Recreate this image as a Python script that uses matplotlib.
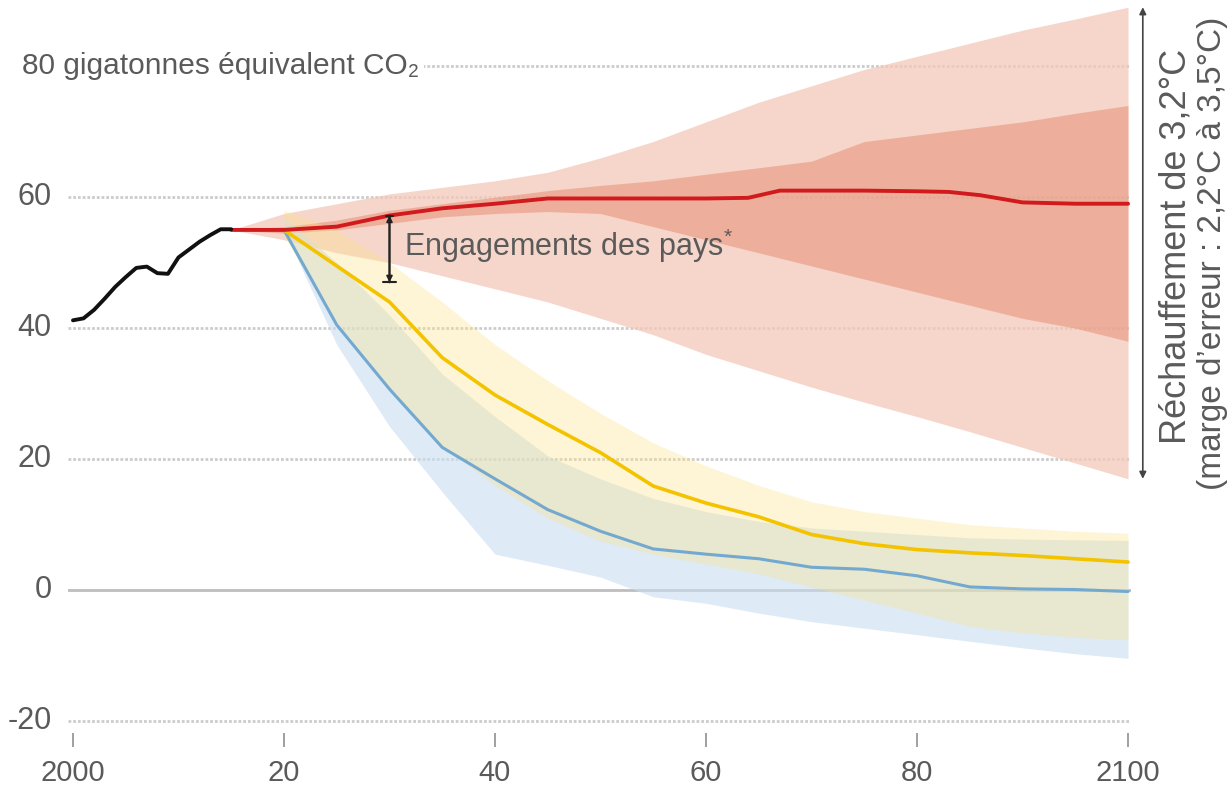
import matplotlib
matplotlib.use('Agg')
import matplotlib.pyplot as plt
from matplotlib import font_manager as fm

# ---- data (Gt CO2-eq per year) ----
hist_years = list(range(2000, 2016))
hist_emissions = [41.2, 41.5, 42.8, 44.5, 46.3, 47.8, 49.2, 49.4, 48.4, 48.3,
                  50.8, 52.0, 53.2, 54.2, 55.1, 55.1]

# national pledges ("engagements des pays") median path
pledge_years = [2015, 2020, 2025, 2030, 2035, 2040, 2045, 2050, 2055, 2060,
                2064, 2067, 2070, 2075, 2080, 2083, 2086, 2090, 2095, 2100]
pledge_line = [55.0, 55.0, 55.5, 57.2, 58.3, 59.0, 59.8, 59.8, 59.8, 59.8,
               59.9, 61.0, 61.0, 61.0, 60.9, 60.8, 60.3, 59.2, 59.0, 59.0]

band_years = list(range(2015, 2101, 5))
pledge_outer_hi = [55.0, 57.5, 59.0, 60.5, 61.5, 62.5, 63.8, 66.0, 68.5, 71.5,
                   74.5, 77.0, 79.5, 81.5, 83.5, 85.5, 87.2, 89.0]
pledge_outer_lo = [55.0, 53.5, 51.5, 50.0, 48.0, 46.0, 44.0, 41.5, 39.0, 36.0,
                   33.5, 31.0, 28.7, 26.5, 24.2, 21.8, 19.4, 17.0]
pledge_inner_hi = [55.0, 55.5, 56.5, 58.0, 59.0, 60.0, 61.0, 61.8, 62.5, 63.5,
                   64.5, 65.5, 68.5, 69.5, 70.5, 71.5, 72.8, 74.0]
pledge_inner_lo = [55.0, 54.5, 55.0, 56.0, 57.0, 57.5, 57.8, 57.5, 55.5, 53.5,
                   51.5, 49.5, 47.5, 45.5, 43.5, 41.5, 40.0, 38.0]

scen_years = list(range(2020, 2101, 5))
# 2 degC pathway
two_line = [55.0, 49.5, 44.0, 35.5, 29.8, 25.3, 21.0, 15.9, 13.3, 11.2,
            8.5, 7.1, 6.2, 5.7, 5.3, 4.8, 4.3]
two_hi = [58.0, 55.0, 50.0, 44.0, 37.5, 32.0, 27.0, 22.5, 19.0, 16.0,
          13.5, 12.0, 11.0, 10.0, 9.5, 9.0, 8.7]
two_lo = [54.0, 41.0, 31.0, 22.0, 16.0, 11.0, 7.5, 5.5, 4.0, 2.5,
          0.5, -1.5, -3.5, -5.5, -6.5, -7.2, -7.6]
# 1.5 degC pathway
one5_line = [55.0, 40.5, 30.7, 21.8, 17.0, 12.3, 9.0, 6.3, 5.5, 4.8,
             3.5, 3.2, 2.2, 0.5, 0.2, 0.1, -0.2]
one5_hi = [57.0, 50.0, 42.0, 33.0, 26.5, 20.5, 17.0, 14.0, 12.0, 10.5,
           9.5, 9.0, 8.5, 8.0, 7.8, 7.7, 7.6]
one5_lo = [55.0, 37.5, 25.0, 15.0, 5.5, 3.8, 2.0, -1.0, -2.0, -3.5,
           -4.8, -5.8, -6.8, -7.8, -8.8, -9.7, -10.4]

gap_year, gap_top, gap_bottom = 2030, 57.2, 47.0

y_ticks = [-20, 0, 20, 40, 60]
x_ticks = [2000, 2020, 2040, 2060, 2080, 2100]
x_labels = ['2000', '20', '40', '60', '80', '2100']

# ---- fonts ----
names = {f.name for f in fm.fontManager.ttflist}
NARROW = 'Liberation Sans Narrow' if 'Liberation Sans Narrow' in names else 'Liberation Sans'
REG = 'Liberation Sans'
TXT = '#5a5a5a'
plt.rcParams['mathtext.fontset'] = 'custom'
plt.rcParams['mathtext.rm'] = REG

fig = plt.figure(figsize=(12.29, 7.90), dpi=100)
ax = fig.add_axes([67.7 / 1229, 57 / 790, 1063.5 / 1229, 733 / 790])
ax.set_xlim(1999.5, 2100.3)
ax.set_ylim(-21.8, 90.1)

# grid
for v in [-20, 20, 40, 60, 80]:
    ax.axhline(v, color='#cccccc', lw=2, ls=(0, (1, 0.7)), zorder=0)
ax.axhline(0, color='#bdbdbd', lw=2, zorder=0.5)

# pledge bands
ax.fill_between(band_years, pledge_outer_lo, pledge_outer_hi,
                color='#f4c9b9', alpha=0.75, lw=0, zorder=1)
ax.fill_between(band_years, pledge_inner_lo, pledge_inner_hi,
                color='#e58a70', alpha=0.5, lw=0, zorder=1.1)
# 1.5 / 2 degC bands
ax.fill_between(scen_years, one5_lo, one5_hi, color='#c9ddf1', alpha=0.6,
                lw=0, zorder=1.2)
ax.fill_between(scen_years, two_lo, two_hi, color='#fbe38a', alpha=0.35,
                lw=0, zorder=1.3)

# lines
ax.plot(scen_years, one5_line, color='#74a9cf', lw=2.2, zorder=3,
        solid_capstyle='round')
ax.plot(scen_years, two_line, color='#f3c300', lw=2.6, zorder=3.1,
        solid_capstyle='round')
ax.plot(pledge_years, pledge_line, color='#d11a1d', lw=2.8, zorder=3.2,
        solid_capstyle='round')
ax.plot(hist_years, hist_emissions, color='#111111', lw=2.8, zorder=3.3,
        solid_capstyle='round')

# gap annotation at 2030
ax.annotate('', xy=(gap_year, gap_bottom), xytext=(gap_year, gap_top),
            arrowprops=dict(arrowstyle='<|-|>', color='#222222', lw=1.2,
                            mutation_scale=9, shrinkA=0, shrinkB=0), zorder=4)
ax.annotate('', xy=(gap_year, gap_bottom), xytext=(gap_year, gap_top),
            arrowprops=dict(arrowstyle='|-|,widthA=0.25,widthB=0.45',
                            color='#222222', lw=1.5, shrinkA=0, shrinkB=0),
            zorder=4)
ax.text(2031.4, 52.6, 'Engagements des pays$^{*}$', fontsize=22, family=NARROW,
        color=TXT, ha='left', va='center', zorder=5)

# y labels
for v in y_ticks:
    ax.text(1998.0, v, str(v), fontsize=22, family=NARROW, color=TXT,
            ha='right', va='center', clip_on=False)
ax.text(1995.2, 80, '80 gigatonnes équivalent CO₂', fontsize=21.5,
        family=[NARROW, 'DejaVu Sans'], color=TXT, ha='left', va='center',
        clip_on=False, zorder=6,
        bbox=dict(boxstyle='square,pad=0.15', fc='white', ec='none'))

# x axis
ax.set_xticks(x_ticks)
ax.set_xticklabels(x_labels, fontsize=21, family=NARROW, color=TXT)
ax.tick_params(axis='x', length=10, width=1.3, color='#999999', pad=9)
ax.set_yticks([])
for s in ax.spines.values():
    s.set_visible(False)

# right-hand warming range arrow
ax.annotate('', xy=(2101.4, pledge_outer_hi[-1]), xytext=(2101.4, pledge_outer_lo[-1]),
            arrowprops=dict(arrowstyle='<|-|>', color='#444444', lw=1.2,
                            mutation_scale=10, shrinkA=0, shrinkB=0),
            annotation_clip=False)
ax.text(2104.5, 52.5, 'Réchauffement de 3,2°C', rotation=90, fontsize=26,
        family=REG, color=TXT, ha='center', va='center', clip_on=False)
ax.text(2108.0, 51.5, '(marge d’erreur : 2,2°C à 3,5°C)', rotation=90,
        fontsize=24, family=REG, color=TXT, ha='center', va='center',
        clip_on=False)

fig.savefig('out.png', dpi=100)
